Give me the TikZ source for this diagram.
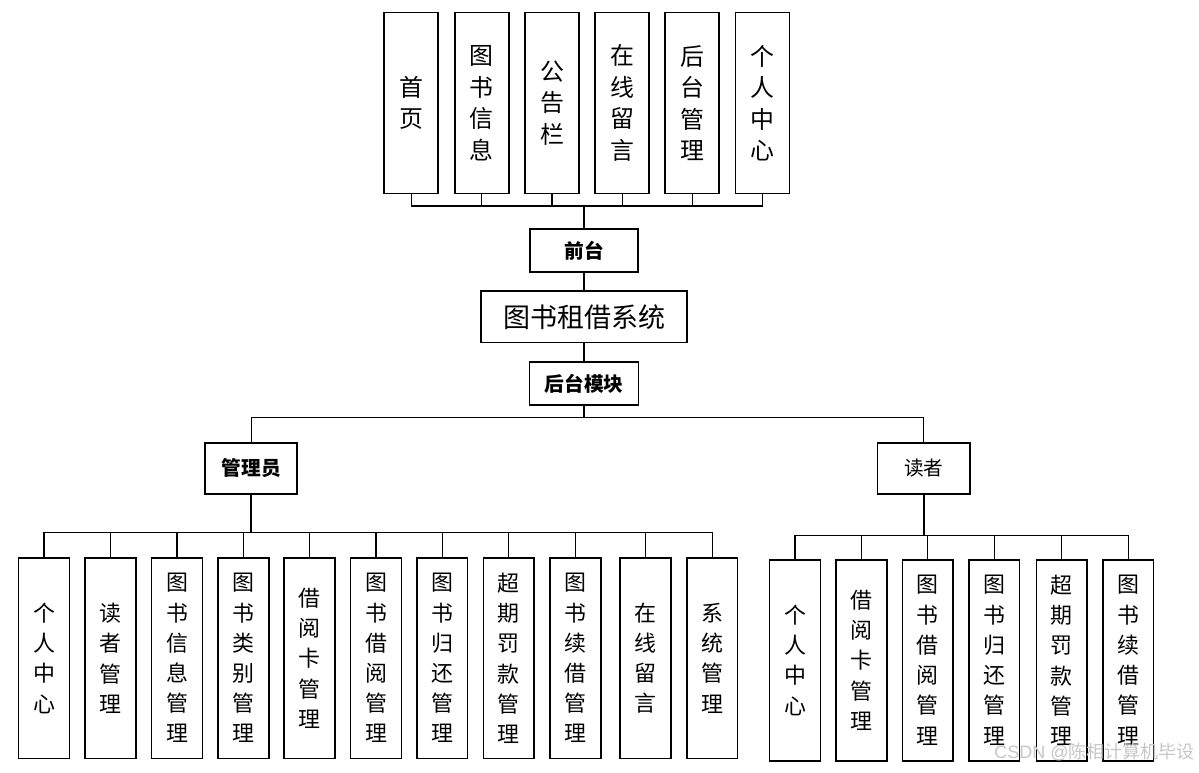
\documentclass[tikz,border=0pt]{standalone}
\usepackage{fontspec}
\setmainfont{Noto Sans CJK SC}
\newfontfamily\latinwm{Liberation Sans}
\usepackage{tikz}
\usetikzlibrary{positioning, calc}
\tikzstyle{topbox} = [rectangle, draw=black, line width=1.2pt, inner sep=0pt, minimum width=1.35cm, minimum height=4.52cm, align=center, font=\fontsize{17}{22.4}\selectfont]
\tikzstyle{leafbox} = [rectangle, draw=black, line width=1.2pt, inner sep=0pt, minimum width=1.27cm, minimum height=5.02cm, align=center, font=\fontsize{15.6}{21.5}\selectfont]
\tikzstyle{midbox} = [rectangle, draw=black, line width=1.2pt, inner sep=0pt, text centered, font=\fontsize{14}{16}\selectfont\bfseries]
\tikzstyle{link} = [line width=0.9pt]
\tikzstyle{thicklink} = [line width=1.6pt]

\begin{document}
\begin{tikzpicture}[x=0.025cm, y=-0.025cm]
\useasboundingbox (0,0) rectangle (1199,773);

% Front pages
\node (home) [topbox] at (411.3,103) {首\\页};
\node (books) [topbox] at (481.7,103) {图\\书\\信\\息};
\node (notice) [topbox] at (552,103) {公\\告\\栏};
\node (msg) [topbox] at (622.2,103) {在\\线\\留\\言};
\node (admin) [topbox] at (692.2,103) {后\\台\\管\\理};
\node (self) [topbox] at (762.5,103) {个\\人\\中\\心};

% Centre column
\node (front) [midbox, minimum width=2.7cm, minimum height=1.07cm] at (584,250.3) {前台};
\node (system) [rectangle, draw=black, line width=1.2pt, minimum width=5.15cm, minimum height=1.29cm, font=\fontsize{19.2}{22}\selectfont] at (584,316.8) {图书租借系统};
\node (back) [midbox, minimum width=2.725cm, minimum height=1.075cm] at (584,383.8) {后台模块};

% Roles
\node (mgr) [midbox, minimum width=2.3cm, minimum height=1.28cm] at (251.3,468.3) {管理员};
\node (reader) [midbox, font=\fontsize{14}{16}\selectfont, minimum width=2.31cm, minimum height=1.275cm] at (923.8,468.2) {读者};

% Administrator modules
\node (m1) [leafbox] at (44,658.2) {个\\人\\中\\心};
\node (m2) [leafbox] at (110.7,658.2) {读\\者\\管\\理};
\node (m3) [leafbox] at (177,658.2) {图\\书\\信\\息\\管\\理};
\node (m4) [leafbox] at (243.3,658.2) {图\\书\\类\\别\\管\\理};
\node (m5) [leafbox] at (309.7,658.2) {借\\阅\\卡\\管\\理};
\node (m6) [leafbox] at (376,658.2) {图\\书\\借\\阅\\管\\理};
\node (m7) [leafbox] at (442.2,658.2) {图\\书\\归\\还\\管\\理};
\node (m8) [leafbox] at (508.8,658.2) {超\\期\\罚\\款\\管\\理};
\node (m9) [leafbox] at (575.3,658.2) {图\\书\\续\\借\\管\\理};
\node (m10) [leafbox] at (645.7,658.2) {在\\线\\留\\言};
\node (m11) [leafbox] at (712.2,658.2) {系\\统\\管\\理};

% Reader modules
\node (r1) [leafbox] at (795,660.3) {个\\人\\中\\心};
\node (r2) [leafbox] at (861.5,660.3) {借\\阅\\卡\\管\\理};
\node (r3) [leafbox] at (927.8,660.3) {图\\书\\借\\阅\\管\\理};
\node (r4) [leafbox] at (994.2,660.3) {图\\书\\归\\还\\管\\理};
\node (r5) [leafbox] at (1061.8,660.3) {超\\期\\罚\\款\\管\\理};
\node (r6) [leafbox] at (1128.2,660.3) {图\\书\\续\\借\\管\\理};

% Bus points
\coordinate (frontbus) at (584,206);
\coordinate (rolebus) at (584,417.3);
\coordinate (mgrbus) at (251.3,532.7);
\coordinate (readerbus) at (923.8,535.7);

% Connections
\foreach \n in {home, books, notice, msg, admin, self}
  \draw [link] (\n.south) |- (frontbus);
\draw [thicklink] (frontbus) -- (front.north);
\draw [link] (front) -- (system);
\draw [link] (system) -- (back);
\draw [link] (back) -- (rolebus);
\draw [link] (mgr.north) |- (rolebus);
\draw [link] (reader.north) |- (rolebus);

\draw [thicklink] (mgr.south) -- (mgrbus);
\foreach \n in {m1, m2, m3, m4, m5, m6, m7, m8, m9, m10, m11}
  \draw [link] (\n.north) |- (mgrbus);

\draw [thicklink] (reader.south) -- (readerbus);
\foreach \n in {r1, r2, r3, r4, r5, r6}
  \draw [link] (\n.north) |- (readerbus);

% Watermark
\node (mark) [anchor=east, text=gray!45, font=\fontsize{12.8}{14}\selectfont, inner sep=0pt] at (1195,752) {{\latinwm CSDN @}陈相计算机毕设};

\end{tikzpicture}
\end{document}
